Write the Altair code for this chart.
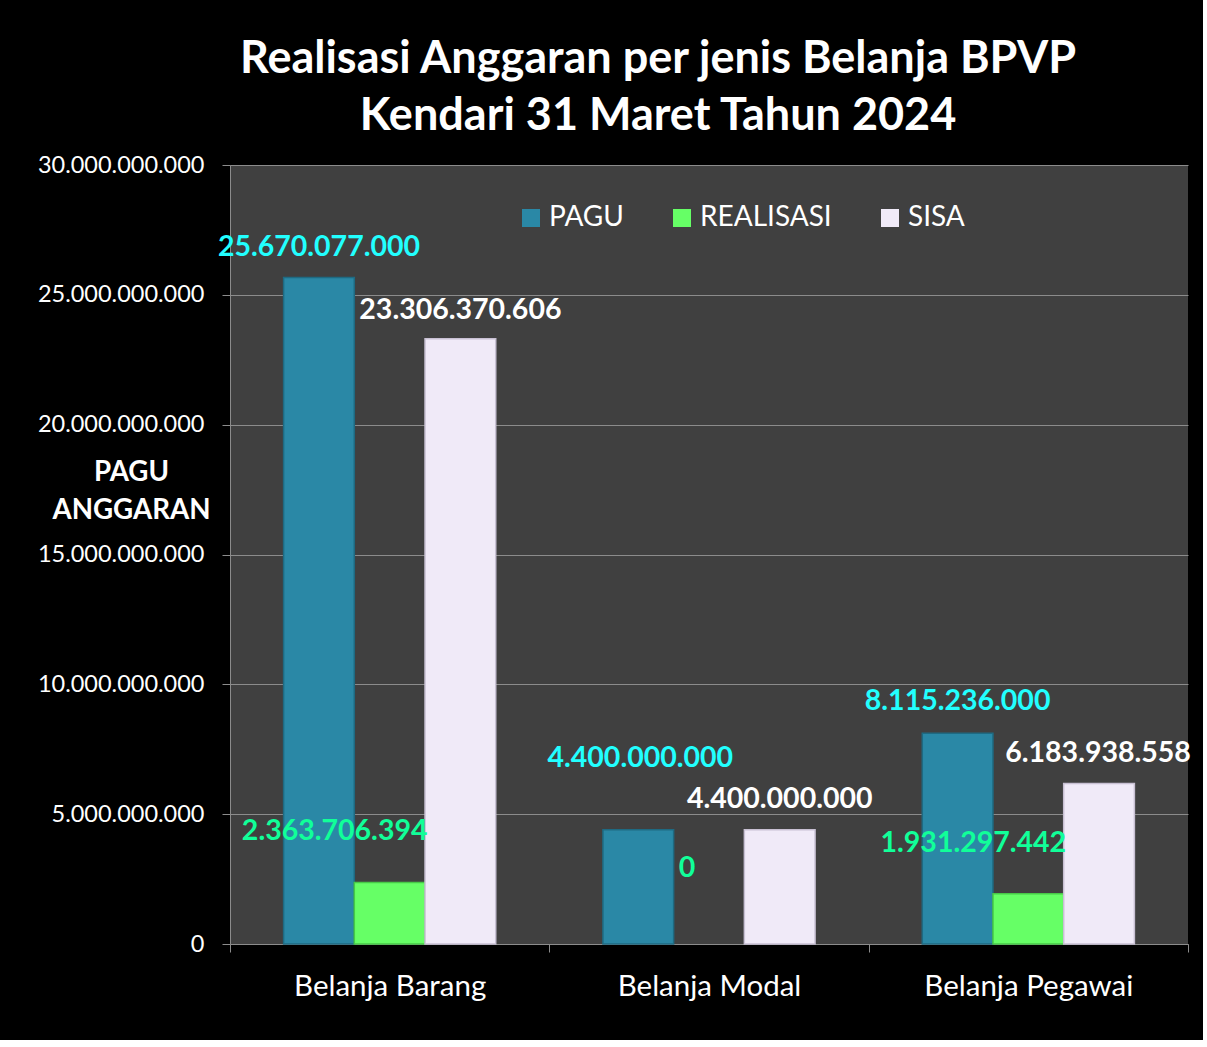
import altair as alt
import pandas as pd

categories = ["Belanja Barang", "Belanja Modal", "Belanja Pegawai"]
series = ["PAGU", "REALISASI", "SISA"]
pagu = [25670077000, 4400000000, 8115236000]
realisasi = [2363706394, 0, 1931297442]
sisa = [23306370606, 4400000000, 6183938558]
y_ticks = [0, 5000000000, 10000000000, 15000000000, 20000000000, 25000000000, 30000000000]

colors = ["#2A88A6", "#66FF66", "#F0EAF8"]
strokes = ["#1E6A82", "#47C947", "#C8C0D3"]
label_colors = ["#22FFFF", "#11FF99", "#FFFFFF"]

# label offsets (dx, dy) in pixels, per series / category
label_dx = [[0, 2, 0], [-55, -22, -55], [0, 0, -1]]
label_dy = [[-30, -72, -32], [-52, -76, -51], [-29, -31, -30]]

FONT = "Lato"

rows = []
for s, vals in zip(series, [pagu, realisasi, sisa]):
    for c, v in zip(categories, vals):
        rows.append({"category": c, "series": s, "value": v})
df = pd.DataFrame(rows)

x_enc = alt.X(
    "category:N",
    sort=categories,
    scale=alt.Scale(domain=categories, paddingInner=0, paddingOuter=0),
    axis=alt.Axis(
        title=None, labelAngle=0, tickBand="extent", tickSize=8, tickColor="#8C8C8C",
        domainColor="#8C8C8C", labelColor="white", labelFontSize=29.5, labelFont=FONT,
        labelPadding=20, labelLimit=0, grid=False,
    ),
)
xoff_enc = alt.XOffset(
    "series:N", sort=series,
    scale=alt.Scale(domain=series, paddingInner=0, paddingOuter=0.758),
)
y_enc = alt.Y(
    "value:Q",
    scale=alt.Scale(domain=[0, 30000000000], nice=False),
    axis=alt.Axis(
        values=y_ticks, format=",.0f",
        grid=True, gridColor="#8C8C8C", domainColor="#8C8C8C", tickColor="#8C8C8C",
        tickSize=8, labelColor="white", labelFontSize=23.5, labelFont=FONT, labelPadding=18,
        labelLimit=0,
        title=["PAGU", "ANGGARAN"], titleAngle=0, titleX=-99, titleY=293,
        titleAlign="center", titleBaseline="top", titleFontSize=27.7, titleFont=FONT,
        titleFontWeight="bold", titleColor="white", titleLineHeight=38,
    ),
)

base = alt.Chart(df).encode(x=x_enc, xOffset=xoff_enc, y=y_enc)

bars = base.mark_bar(strokeWidth=1.5).encode(
    color=alt.Color(
        "series:N",
        scale=alt.Scale(domain=series, range=colors),
        legend=alt.Legend(
            title=None, orient="none", legendX=287, legendY=39, direction="horizontal",
            symbolType="square", symbolSize=324, symbolStrokeWidth=0,
            labelColor="white", labelFontSize=28, labelFont=FONT, labelOffset=4,
            columnPadding=44, labelLimit=0,
        ),
    ),
    stroke=alt.Stroke("series:N", scale=alt.Scale(domain=series, range=strokes), legend=None),
    strokeOpacity=alt.condition(alt.datum.value == 0, alt.value(0), alt.value(1)),
)

layers = [bars]
for si, s in enumerate(series):
    for ci, c in enumerate(categories):
        layers.append(
            base.transform_filter(
                (alt.datum.series == s) & (alt.datum.category == c)
            ).mark_text(
                font=FONT, fontSize=28.5, fontWeight="bold", color=label_colors[si],
                baseline="middle", align="center",
                dx=label_dx[si][ci], dy=label_dy[si][ci],
            ).encode(text=alt.Text("value:Q", format=",.0f"))
        )

chart = alt.layer(*layers).properties(
    width=958,
    height=779,
    title=alt.TitleParams(
        ["Realisasi Anggaran per jenis Belanja BPVP", "Kendari 31 Maret Tahun 2024"],
        anchor="middle", font=FONT, fontSize=45, fontWeight="bold", color="white",
        dx=-51, offset=14, lineHeight=57,
    ),
    background="black",
    padding={"left": 230, "top": 165, "right": 15, "bottom": 96},
    autosize=alt.AutoSizeParams(type="none"),
).configure(
    locale={"number": {"decimal": ",", "thousands": ".", "grouping": [3], "currency": ["Rp", ""]}}
).configure_view(
    fill="#404040", stroke=None
)

chart.save("out.html", embed_options={"renderer": "svg", "actions": False})
